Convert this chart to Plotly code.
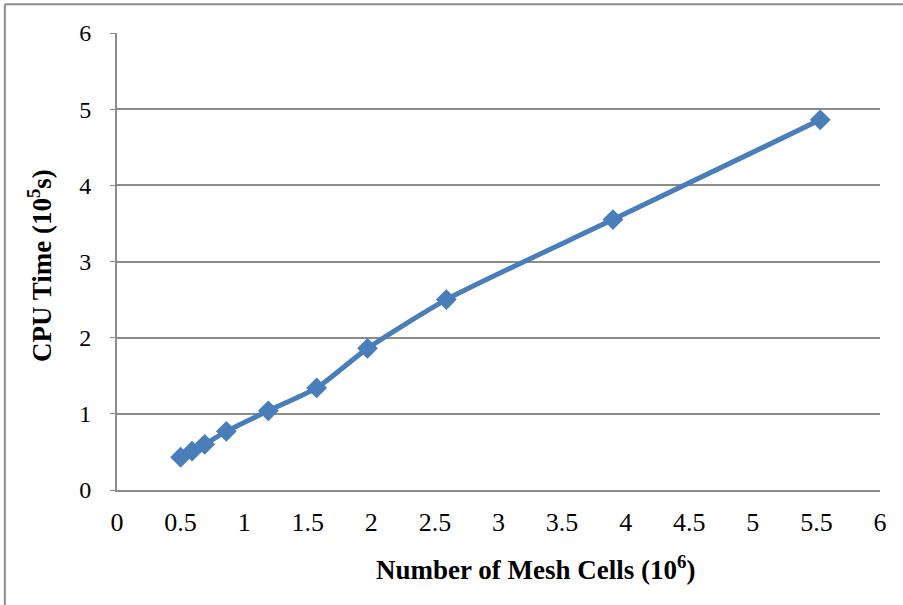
import plotly.graph_objects as go

# Mesh size (millions of cells) vs. CPU time (1e5 s)
mesh_cells = [0.50, 0.59, 0.69, 0.86, 1.19, 1.57, 1.97, 2.59, 3.90, 5.53]
cpu_time = [0.43, 0.51, 0.60, 0.77, 1.04, 1.34, 1.86, 2.50, 3.55, 4.86]

x_ticks = [0, 0.5, 1, 1.5, 2, 2.5, 3, 3.5, 4, 4.5, 5, 5.5, 6]
x_tick_text = ["0", "0.5", "1", "1.5", "2", "2.5", "3", "3.5", "4", "4.5", "5", "5.5", "6"]
y_ticks = [0, 1, 2, 3, 4, 5, 6]

FONT = "Liberation Serif"
BLUE = "#4A7EBB"
GRID = "#8C8C8C"

fig = go.Figure()
fig.add_trace(go.Scatter(
    x=mesh_cells, y=cpu_time,
    mode="lines+markers",
    line=dict(color=BLUE, width=5, shape="spline", smoothing=0.6),
    marker=dict(symbol="diamond", size=16, color=BLUE),
    showlegend=False,
    hoverinfo="x+y",
))

fig.update_layout(
    width=903, height=605,
    margin=dict(l=117, r=23, t=33, b=115),
    paper_bgcolor="white", plot_bgcolor="white",
    font=dict(family=FONT, size=25, color="black"),
    xaxis=dict(
        range=[0, 6], tickvals=x_ticks, ticktext=x_tick_text,
        tickmode="array",
        showgrid=False, zeroline=False,
        showline=True, linecolor=GRID, linewidth=2,
        ticks="outside", ticklen=0, ticklabelstandoff=8,
        tickfont=dict(family=FONT, size=26),
        fixedrange=True,
    ),
    yaxis=dict(
        range=[0, 6], tickvals=y_ticks, tickmode="array",
        showgrid=True, gridcolor=GRID, gridwidth=2,
        zeroline=False,
        showline=True, linecolor=GRID, linewidth=2,
        ticks="outside", ticklen=5, tickcolor=GRID, ticklabelstandoff=14,
        tickfont=dict(family=FONT, size=24),
        fixedrange=True,
    ),
    shapes=[
        # outer chart frame (left and top edges)
        dict(type="line", xref="paper", yref="paper",
             x0=-0.147, x1=-0.147, y0=1.063, y1=-0.3,
             line=dict(color=GRID, width=2)),
        dict(type="line", xref="paper", yref="paper",
             x0=-0.147, x1=1.1, y0=1.063, y1=1.063,
             line=dict(color=GRID, width=2)),
    ],
    annotations=[
        dict(text="<b>Number of Mesh Cells (10<sup>6</sup>)</b>",
             xref="paper", yref="paper", x=0.548, y=-0.171,
             xanchor="center", yanchor="middle", showarrow=False,
             font=dict(family=FONT, size=27)),
        dict(text="<b>CPU Time (10<sup>5</sup>s)</b>",
             xref="paper", yref="paper", x=-0.101, y=0.492,
             xanchor="center", yanchor="middle", showarrow=False,
             textangle=-90, font=dict(family=FONT, size=27)),
    ],
)

fig.write_html("out.html")
